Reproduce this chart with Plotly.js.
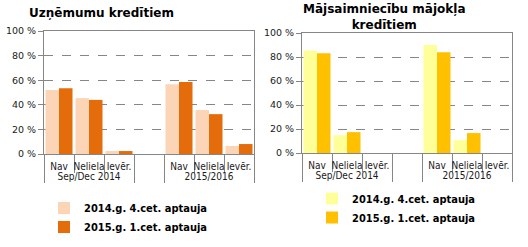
<!DOCTYPE html>
<html>
<head>
<meta charset="utf-8">
<script src="https://cdn.plot.ly/plotly-3.0.1.min.js"></script>
<style>html,body{margin:0;padding:0;background:#fff;}#chart{width:528px;height:247px;}</style>
</head>
<body>
<div id="chart"></div>
<script>
// Data
const groups = ["Sep/Dec 2014", "Sep/Dec 2014", "Sep/Dec 2014", " ", "2015/2016", "2015/2016", "2015/2016"];
const cats = ["Nav", "Neliela", "Ievēr.", " ", "Nav", "Neliela", "Ievēr."];
const seriesNames = ["2014.g. 4.cet. aptauja", "2015.g. 1.cet. aptauja"];
const firmsQ4 = [52, 45.4, 2.4, null, 56.8, 35.7, 6.5];
const firmsQ1 = [53.5, 44, 2.4, null, 58.6, 32.4, 8.1];
const houseQ4 = [85.5, 14.9, 0, null, 89.9, 10.7, 0];
const houseQ1 = [83.2, 17.4, 0, null, 84, 16.6, 0];
const yTicks = [0, 20, 40, 60, 80, 100];
const yTickLabels = ["0 %", "20 %", "40 %", "60 %", "80 %", "100 %"];
const titleLeft = "Uzņēmumu kredītiem";
const titleRight = "Mājsaimniecību mājokļa<br>kredītiem";

const W = 528, H = 247;
const px = v => v / W, py = v => 1 - v / H;
const FONT = "Tahoma, 'DejaVu Sans', sans-serif";
const XFONT = "'DejaVu Sans Condensed', Tahoma, 'DejaVu Sans', sans-serif";
const GRAY = "#868686";

const traces = [
  {type: "bar", x: [groups, cats], y: firmsQ4, name: seriesNames[0], marker: {color: "#FBD5B5"}, xaxis: "x", yaxis: "y", legend: "legend"},
  {type: "bar", x: [groups, cats], y: firmsQ1, name: seriesNames[1], marker: {color: "#E46C0A"}, xaxis: "x", yaxis: "y", legend: "legend"},
  {type: "bar", x: [groups, cats], y: houseQ4, name: seriesNames[0], marker: {color: "#FFFF99"}, xaxis: "x2", yaxis: "y2", legend: "legend2"},
  {type: "bar", x: [groups, cats], y: houseQ1, name: seriesNames[1], marker: {color: "#FFC000"}, xaxis: "x2", yaxis: "y2", legend: "legend2"}
];
traces.forEach(t => { t.hoverinfo = "skip"; });

function xAxis(d0, d1, anchor) {
  return {
    domain: [px(d0), px(d1)], anchor: anchor, type: "multicategory",
    showline: true, linecolor: GRAY, linewidth: 1, mirror: true,
    ticks: "outside", tickson: "boundaries", ticklen: 18, tickcolor: GRAY, tickwidth: 1,
    ticklabelstandoff: 3, tickangle: 0,
    showdividers: true, dividercolor: GRAY, dividerwidth: 1,
    tickfont: {family: XFONT, size: 10, color: "#1a1a1a"},
    showgrid: false, fixedrange: true
  };
}
function yAxis(top, bottom, anchor) {
  return {
    domain: [py(bottom), py(top)], anchor: anchor, range: [0, 100],
    tickmode: "array", tickvals: yTicks, ticktext: yTickLabels,
    showline: true, linecolor: GRAY, linewidth: 1, mirror: true,
    ticks: "outside", ticklen: 5, tickcolor: GRAY,
    showgrid: true, gridcolor: GRAY, griddash: "dash", gridwidth: 1,
    zeroline: false,
    tickfont: {family: FONT, size: 9.5, color: "#1a1a1a"}, fixedrange: true
  };
}

const legendFont = {family: XFONT, size: 11, color: "#000", weight: "bold"};
const layout = {
  width: W, height: H,
  margin: {l: 0, r: 0, t: 0, b: 0},
  paper_bgcolor: "#fff", plot_bgcolor: "#fff",
  barmode: "group", bargap: 0.1, bargroupgap: 0,
  xaxis: xAxis(44, 254, "y"),
  yaxis: yAxis(31, 154, "x"),
  xaxis2: xAxis(302, 512, "y2"),
  yaxis2: yAxis(33, 153, "x2"),
  legend: {x: px(44), y: py(217.5), xanchor: "left", yanchor: "middle", bgcolor: "rgba(0,0,0,0)",
    font: legendFont, tracegroupgap: 0},
  legend2: {x: px(312), y: py(208), xanchor: "left", yanchor: "middle", bgcolor: "rgba(0,0,0,0)",
    font: legendFont, tracegroupgap: 0},
  annotations: [
    {text: titleLeft, xref: "paper", yref: "paper", x: px(27), y: py(13), xanchor: "left", yanchor: "middle",
     showarrow: false, font: {family: FONT, size: 12, color: "#000", weight: "bold"}},
    {text: titleRight, xref: "paper", yref: "paper", x: px(384), y: py(17), xanchor: "center", yanchor: "middle",
     showarrow: false, font: {family: FONT, size: 12, color: "#000", weight: "bold"}}
  ],
  showlegend: true
};

Plotly.newPlot("chart", traces, layout, {staticPlot: true, displayModeBar: false});
</script>
</body>
</html>
